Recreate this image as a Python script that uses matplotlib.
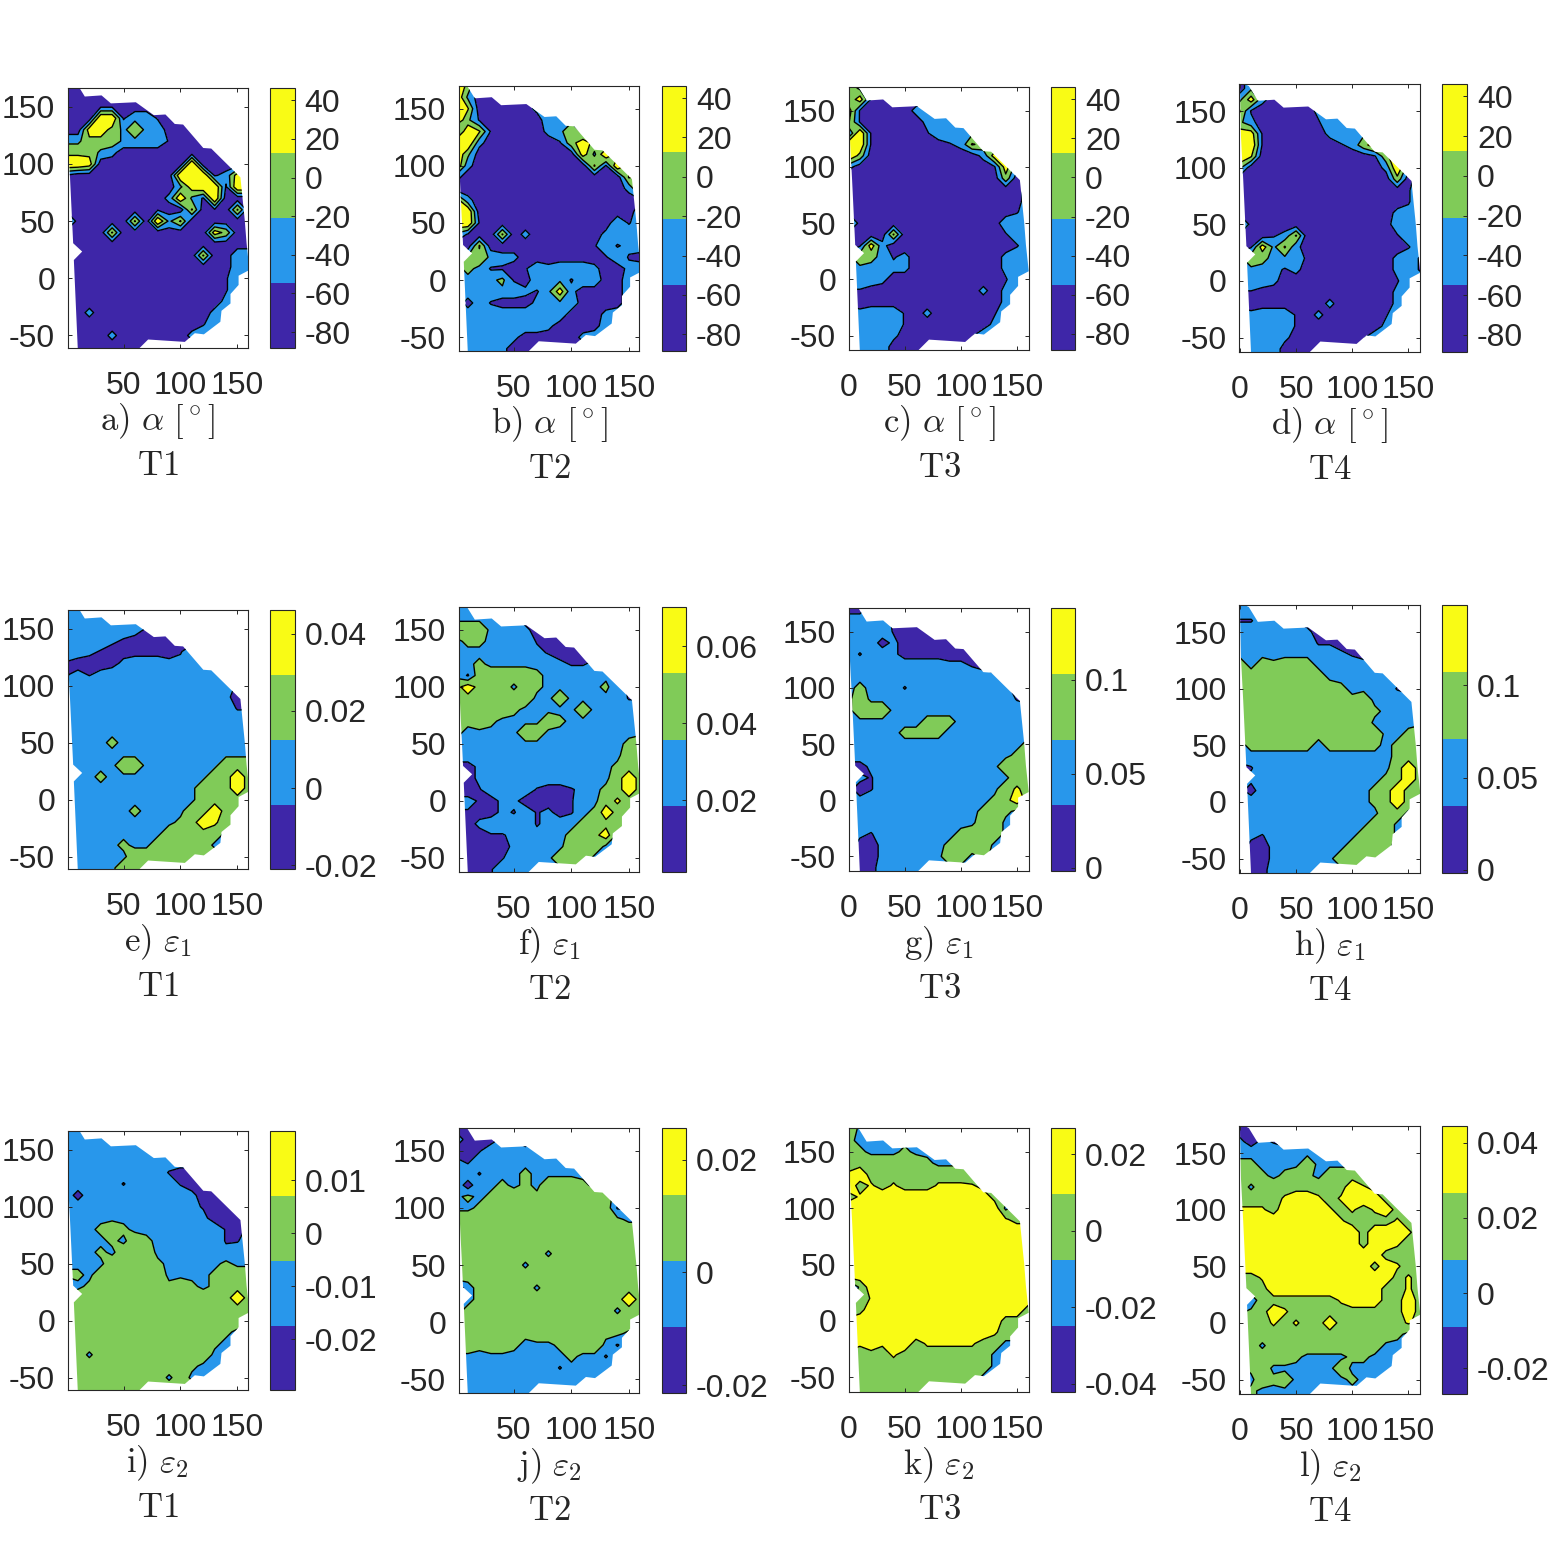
import numpy as np
import matplotlib
matplotlib.use('Agg')
from matplotlib import pyplot as plt
from matplotlib.colors import ListedColormap
from matplotlib.patches import Polygon

# Each panel: one string per row (y = 170, 160 ... -60), one digit per column
# (x = 0, 10 ... 160). The digit is the value, in ninths
# of that panel's colour range.
alpha_t1 = [
    "11111111111111111", "11111111111111111", "11122111111111111", "11199244211111111",
    "11886464411111111", "44666444421111111", "66643111111111111", "99811111111911111",
    "21111111119992386", "11111111114899299", "11111111139429111", "11111111211712171",
    "71111171947111111", "11117111111118611", "11111111111111111", "11111111111171144",
    "41111111111111144", "11111111111111244", "11111111111111244", "11111111111111344",
    "11311111111113444", "11111111111124444", "11113111111344444", "11111111111111111",
]
alpha_t2 = [
    "96111111111111111", "94111111111111111", "97111113444444444", "95211111444444444",
    "39721111346444444", "99311111126864444", "95111111111849666", "93111111111172966",
    "31111111111111176", "11111111111111137", "83111111111111112", "99111111111111114",
    "99211111111111424", "42117131111113444", "11711111111124234", "45643311111112421",
    "45422124344431134", "44445214442441144", "44344432483111144", "41421113444111144",
    "44444444441113444", "44444444311114444", "44444311111344444", "44443111111111111",
]
alpha_t3 = [
    "64111111111111111", "58211111111111111", "82111134444444444", "72111113444444444",
    "29211112444444444", "99211111123764444", "96111111111138844", "31111111111112834",
    "11111111111111614", "11111111111111114", "11111111111111114", "11111111111111124",
    "71111111111111444", "11117111111111244", "12831111111111124", "46542311111111344",
    "44433311111111344", "44431111111111244", "22111111111131344", "11111111111111344",
    "43444213111112444", "44444211111113444", "44443111111244444", "43441111111111111",
]
alpha_t4 = [
    "14111111111111111", "48311111111111111", "72111113444444444", "53111112444444444",
    "88211111344464444", "99211111123688744", "97111111111126964", "51111111111113934",
    "11111111111111614", "11111111111111124", "11111111111111124", "11111111111111334",
    "71111111111111444", "11123711111111244", "12847311111111124", "46544321111111342",
    "44432311111111342", "44431111111111244", "22111111111111344", "11111111311111344",
    "43444213111112444", "44444211111113444", "44443111111244444", "43441111111111111",
]
eps1_t1 = [
    "44444444444444444", "44444444444444444", "44444442111111111", "44443211111144444",
    "44321111112444444", "21111344433444444", "23234444444444444", "34444444444444322",
    "44444444444444311", "44444444444444422", "44444444444444444", "44444444444444444",
    "44445444444444444", "44444444444444444", "44444664444444666", "44454444444446686",
    "44444444444466686", "44444444444466666", "44444454444668666", "44444444445687666",
    "44444444466666444", "44444544666664444", "44444466666666666", "44444666666666666",
]
eps1_t2 = [
    "44444444444444444", "44444311111111111", "66644431111111111", "45544442111111111",
    "44444443211111111", "44544444432234444", "42666665444444444", "68666465444445321",
    "66666664464444422", "66666544444644444", "65654444654444444", "54444466444444444",
    "44444444444444456", "44444444444444466", "11344444444444566", "21344444444444686",
    "11244442112345686", "33213311112446766", "22113242312458666", "11344442344566644",
    "11122343445668444", "11111344446664444", "11112444466644444", "11124444444444444",
]
eps1_t3 = [
    "11444444444444444", "44332111111111111", "44442111111111111", "44413111111111111",
    "42443111111111111", "44444444433211111", "44444444444443111", "45444244444444311",
    "46444444444444421", "46664444444444444", "44444445554444444", "44444555544444444",
    "44444444444444445", "44444444444444456", "11344444444444666", "43244444444444466",
    "31244444444444676", "43444444444445686", "44444444444456544", "44444444444466444",
    "43244444445666444", "41134444456664444", "41134444466454444", "41144444444444444",
]
eps1_t4 = [
    "44444444444444444", "22444211111111111", "44444431111111111", "44444442211111111",
    "44444444432111111", "64656664444444444", "66666666444444444", "66666666654444211",
    "66666666665644444", "66666666666654444", "66666666666644444", "66666665666664456",
    "45555554555554566", "44444444444444566", "12444444444444686", "43344444444445686",
    "31444444444456866", "44444444444456866", "44444444444446644", "44444444444466444",
    "43244444444666444", "41134444446665444", "41134444466654444", "41144444444444444",
]
eps2_t1 = [
    "44444444444444444", "44444444444444444", "44444444444444444", "44444444444444444",
    "44444444421111111", "44444244442111111", "41444444444311111", "44444444444321111",
    "44444444444431111", "44456544444444213", "44445465444444224", "44454666444444344",
    "44446666544444544", "55466666644445666", "24566666656545666", "66666666666666686",
    "66666666666666666", "66666666666666666", "66666666666666544", "66666666666665444",
    "66466666666664444", "66666666666544444", "66666666646444444", "66666666666666666",
]
eps2_t2 = [
    "11114444444444444", "41113214444444444", "11244434444444444", "32444444432444444",
    "44244454444444444", "41445454666544444", "45456665666665444", "44566666666666222",
    "66666666666666544", "66666666666666666", "66666666666666666", "66666666466666666",
    "66666646666666666", "66666666666666666", "13666664666666666", "44566666666666686",
    "45666666666666466", "66666666666666666", "66666656666665544", "66566544456664244",
    "44444444445442444", "44444444424444444", "44444444444444444", "44444444444444444",
]
eps2_t3 = [
    "64444444444444444", "54444444444444444", "65444544444444444", "66666665444444444",
    "78666666666544444", "86767666777764444", "67788888888886644", "88888888888888466",
    "88888888888888766", "88888888888888888", "88888888888888888", "88888888888888888",
    "88888888888888888", "88888888888888888", "15888888888888888", "45788888888888888",
    "46888888888888886", "88888888888888666", "88888888888887666", "87878867777766444",
    "66667666666664444", "66666666666664444", "66666666666644444", "66666666666666666",
]
eps2_t4 = [
    "11114444444444444", "31321114444444444", "44444444444444444", "55444464444444444",
    "66545654666544444", "64666666668764444", "66667887678886544", "77768888767678644",
    "88888888876666766", "88888888888688876", "88888888888688766", "88888888888886666",
    "88888888888868766", "66788888888888676", "46688888888886676", "13666666678886686",
    "45687666666666686", "66676766866666676", "66666666666666544", "66466666666664444",
    "45666544445544444", "45644444464444444", "44656444445444444", "45444444444444444",
]

panel_rows = [alpha_t1, alpha_t2, alpha_t3, alpha_t4,
              eps1_t1, eps1_t2, eps1_t3, eps1_t4,
              eps2_t1, eps2_t2, eps2_t3, eps2_t4]

grid_x = [0, 10, 20, 30, 40, 50, 60, 70, 80, 90, 100, 110, 120, 130, 140, 150, 160]
grid_y = [170, 160, 150, 140, 130, 120, 110, 100, 90, 80, 70, 60, 50, 40, 30, 20, 10, 0,
          -10, -20, -30, -40, -50, -60]

# measured region that has data
outline_x = [0, 8, 16, 30.7, 38.9, 60.8, 76.6, 86.8, 95, 102.3, 120, 127, 152.6, 156.4, 158,
             160.5, 151, 151, 143.9, 143.9, 136, 135, 120.5, 112.6, 103.8, 71.6, 60, 10, 6.4,
             13.7, 5.8, 3, 1]
outline_y = [176, 172, 159, 160, 153, 154, 142.7, 143.3, 135, 134.5, 114, 113.5, 88.3, 51, 30.7,
             7.3, 2.3, -5.8, -13.7, -22, -28.4, -38, -49, -48, -55.6, -53.5, -65, -65, 16,
             23.4, 30.7, 89, 127]

# colour range of each colour bar
color_ranges = [(-88.4, 46.2), (-88.6, 46.0), (-88.4, 46.1), (-88.7, 46.0),
                (-0.021, 0.046), (0.0013, 0.0701), (-0.0016, 0.138), (-0.002, 0.1435),
                (-0.0296, 0.0192), (-0.0214, 0.0255), (-0.0421, 0.0268), (-0.0269, 0.0443)]
alpha_ticks = ['40', '20', '0', '-20', '-40', '-60', '-80']
colorbar_ticks = [alpha_ticks, alpha_ticks, alpha_ticks, alpha_ticks,
                  ['0.04', '0.02', '0', '-0.02'], ['0.06', '0.04', '0.02'],
                  ['0.1', '0.05', '0'], ['0.1', '0.05', '0'],
                  ['0.01', '0', '-0.01', '-0.02'], ['0.02', '0', '-0.02'],
                  ['0.02', '0', '-0.02', '-0.04'], ['0.04', '0.02', '0', '-0.02']]
captions = [r'$\mathrm{a)}\ \alpha\ [^\circ]$', r'$\mathrm{b)}\ \alpha\ [^\circ]$',
            r'$\mathrm{c)}\ \alpha\ [^\circ]$', r'$\mathrm{d)}\ \alpha\ [^\circ]$',
            r'$\mathrm{e)}\ \varepsilon_1$', r'$\mathrm{f)}\ \varepsilon_1$',
            r'$\mathrm{g)}\ \varepsilon_1$', r'$\mathrm{h)}\ \varepsilon_1$',
            r'$\mathrm{i)}\ \varepsilon_2$', r'$\mathrm{j)}\ \varepsilon_2$',
            r'$\mathrm{k)}\ \varepsilon_2$', r'$\mathrm{l)}\ \varepsilon_2$']
temps = ['T1', 'T2', 'T3', 'T4']
band_colors = ['#3e26a8', '#2897eb', '#80cb58', '#f9fb15']
ink = '#262626'

# pixel layout of the panels
column_x = [(67.7, 247.7, 270, 294.7), (458.7, 639.3, 662.3, 686.3),
            (848.7, 1029.3, 1051.3, 1075.3), (1239.3, 1420.3, 1442.3, 1467.3)]
panel_y = [(88.3, 348.3), (86, 351.3), (87.3, 350.3), (84.3, 352.3),
           (610.3, 869.3), (607.3, 872), (608.3, 871), (605.3, 873.3),
           (1131.3, 1390.3), (1128.3, 1393.3), (1128.3, 1392), (1126.3, 1394.3)]
column_xlim = [(1, 159), (2, 159), (0, 161), (-0.5, 160.5)]
column_ylim = [(-61.2, 166.2), (-62.3, 169.8), (-63, 170.8), (-63, 173.6)]
column_xticks = [[50, 100, 150], [50, 100, 150], [0, 50, 100, 150], [0, 50, 100, 150]]
y_ticks = [-50, 0, 50, 100, 150]

plt.rcParams['font.family'] = ['Liberation Sans']
plt.rcParams['axes.unicode_minus'] = False
plt.rcParams['mathtext.fontset'] = 'cm'

SIZE = 1563.0
TICK_FONT = 23
CAPTION_FONT = 25


def to_rect(x0, x1, y0, y1):
    return [x0 / SIZE, 1 - y1 / SIZE, (x1 - x0) / SIZE, (y1 - y0) / SIZE]


def style_box(ax):
    for spine in ax.spines.values():
        spine.set_linewidth(0.8)
        spine.set_color(ink)


fig = plt.figure(figsize=(15.63, 15.63), dpi=100)
cmap = ListedColormap(band_colors)

for i, rows in enumerate(panel_rows):
    col = i % 4
    x0, x1, c0, c1 = column_x[col]
    y0, y1 = panel_y[i]
    lo, hi = color_ranges[i]

    digits = np.array([[int(c) for c in row] for row in rows], dtype=float)
    z = lo + digits / 9 * (hi - lo)
    # repeat the outer rows and columns so that the fill reaches the axes edge
    z = np.pad(z, 1, mode='edge')
    xs = np.array([-10] + grid_x + [170])
    ys = np.array([180] + grid_y + [-70])
    levels = np.linspace(lo, hi, 5)
    # the top level sits a hair above the largest value so plateaus stay filled
    levels[-1] += (hi - lo) * 1e-3

    ax = fig.add_axes(to_rect(x0, x1, y0, y1))
    shape = Polygon(np.column_stack([outline_x, outline_y]), closed=True, transform=ax.transData)
    filled = ax.contourf(xs, ys, z, levels=levels, cmap=cmap)
    filled.set_clip_path(shape)
    lines = ax.contour(xs, ys, z, levels=levels[1:-1], colors='k', linewidths=1.0,
                       linestyles='solid')
    lines.set_clip_path(shape)

    ax.set_xlim(*column_xlim[col])
    ax.set_ylim(*column_ylim[col])
    ax.set_xticks(column_xticks[col])
    ax.set_yticks(y_ticks)
    ax.set_yticklabels([str(t) for t in y_ticks])
    ax.tick_params(direction='in', length=2.6, width=0.7, color=ink, labelcolor=ink,
                   labelsize=TICK_FONT, top=True, right=True)
    ax.tick_params(axis='x', pad=16.5)
    ax.tick_params(axis='y', pad=9)
    style_box(ax)

    cax = fig.add_axes(to_rect(c0, c1, y0, y1))
    cbar = fig.colorbar(filled, cax=cax)
    labels = colorbar_ticks[i]
    cbar.set_ticks([float(t) for t in labels], labels=labels)
    cax.tick_params(direction='in', length=2.6, width=0.7, color=ink, labelcolor=ink,
                    labelsize=TICK_FONT, pad=7)
    cbar.outline.set_linewidth(0.8)
    cbar.outline.set_edgecolor(ink)

    center = (x0 + x1) / 2 / SIZE
    fig.text(center, 1 - (y1 + 82) / SIZE, captions[i], fontsize=CAPTION_FONT, ha='center',
             va='baseline', color=ink)
    fig.text(center, 1 - (y1 + 127) / SIZE, r'$\mathrm{' + temps[col] + '}$', fontsize=CAPTION_FONT,
             ha='center', va='baseline', color=ink)

fig.savefig('out.png', dpi=100)
